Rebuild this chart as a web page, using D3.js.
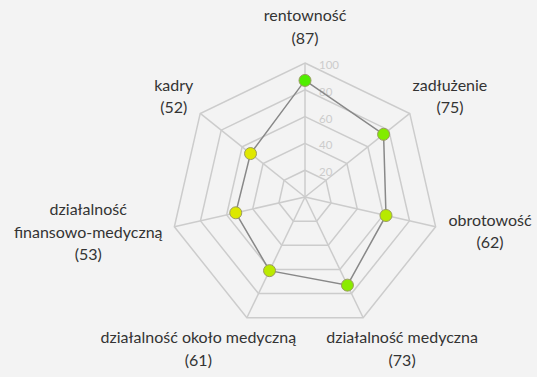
<!DOCTYPE html>
<html>
<head>
<meta charset="utf-8">
<script src="https://cdn.jsdelivr.net/npm/d3@7"></script>
<style>
  html, body { margin: 0; padding: 0; background: #f3f3f3; }
  svg { display: block; }
</style>
</head>
<body>
<svg id="chart" width="537" height="377"></svg>
<script>
// chart data
const categories = [
  ["rentowność"],
  ["zadłużenie"],
  ["obrotowość"],
  ["działalność medyczna"],
  ["działalność około medyczną"],
  ["działalność", "finansowo-medyczną"],
  ["kadry"],
];
const values = [87, 75, 62, 73, 61, 53, 52];
const tickValues = [20, 40, 60, 80, 100];

const width = 537;
const height = 377;
const cx = 305;
const cy = 197;
const radius = 134;
const n = categories.length;
const font = "Lato, sans-serif";

const svg = d3.select("#chart");

const r = d3.scaleLinear().domain([0, 100]).range([0, radius]);
const angle = d3.scaleLinear().domain([0, n]).range([0, 2 * Math.PI]);

// yellow -> green depending on value
const dotColor = d3.scaleLinear()
  .domain([50, 90])
  .range(["#e8e800", "#44ee00"])
  .clamp(true);

const point = (i, v) => {
  const a = angle(i);
  return [cx + r(v) * Math.sin(a), cy - r(v) * Math.cos(a)];
};

const g = svg.append("g");

// grid rings
tickValues.forEach((t) => {
  const pts = d3.range(n).map((i) => point(i, t));
  g.append("path")
    .attr("d", d3.line()(pts) + "Z")
    .attr("fill", "none")
    .attr("stroke", "#cccccc")
    .attr("stroke-width", 1.5);
});

// spokes
d3.range(n).forEach((i) => {
  const [x, y] = point(i, 100);
  g.append("line")
    .attr("x1", cx).attr("y1", cy)
    .attr("x2", x).attr("y2", y)
    .attr("stroke", "#cccccc")
    .attr("stroke-width", 1.5);
});

// tick labels on the top axis
g.selectAll(".tick-label")
  .data(tickValues)
  .enter()
  .append("text")
  .attr("class", "tick-label")
  .attr("x", cx + 14)
  .attr("y", (d) => cy - r(d) + 3)
  .attr("dominant-baseline", "middle")
  .attr("font-family", font)
  .attr("font-size", 11.5)
  .attr("fill", "#cccccc")
  .text((d) => d);

// value outline
const valuePts = values.map((v, i) => point(i, v));
g.append("path")
  .attr("d", d3.line()(valuePts) + "Z")
  .attr("fill", "none")
  .attr("stroke", "#888888")
  .attr("stroke-width", 1.5);

// dots
g.selectAll(".dot")
  .data(values)
  .enter()
  .append("circle")
  .attr("class", "dot")
  .attr("cx", (d, i) => point(i, d)[0])
  .attr("cy", (d, i) => point(i, d)[1])
  .attr("r", 6)
  .attr("fill", (d) => dotColor(d))
  .attr("stroke", "#9a9a60")
  .attr("stroke-width", 1);

// axis labels
const lineH = 22.5;
categories.forEach((lines, i) => {
  const allLines = lines.concat([`(${values[i]})`]);
  const a = angle(i);
  const lab = g.append("text")
    .attr("font-family", font)
    .attr("font-size", 16)
    .attr("fill", "#333333")
    .attr("text-anchor", "middle");
  allLines.forEach((s, k) => {
    lab.append("tspan").attr("x", 0).attr("y", k * lineH).text(s);
  });
  const bb = lab.node().getBBox();
  const hw = bb.width / 2;
  const hh = (allLines.length * lineH) / 2;
  const [ax, ay] = point(i, 100 + 14 / radius * 100);
  const c = Math.cos(a);
  const bx = ax + Math.sin(a) * hw;
  const by = ay - c * Math.abs(c) * hh + 2;
  // centre the block of lines on (bx, by)
  const top = by - hh + lineH * 0.68;
  lab.attr("transform", `translate(${bx},${top})`);
});
</script>
</body>
</html>
